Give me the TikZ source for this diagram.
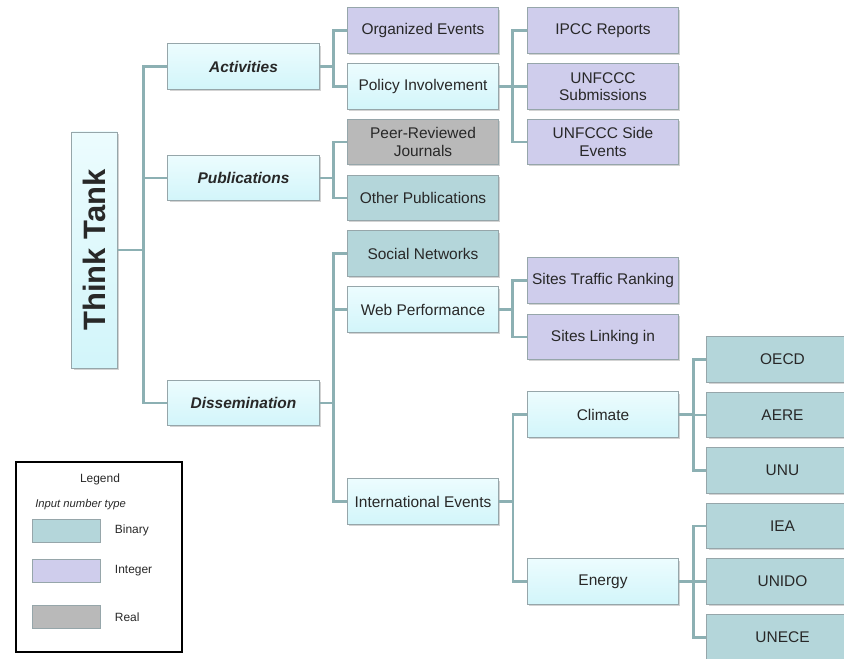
\documentclass[tikz,border=0pt]{standalone}
\usepackage{fontspec}
\setmainfont{Liberation Sans}
\usepackage{graphicx}
\usetikzlibrary{shadows}

\definecolor{tkcyan}{RGB}{210,245,250}
\definecolor{tkcyantop}{RGB}{236,252,254}
\definecolor{tkbinary}{RGB}{180,214,218}
\definecolor{tkinteger}{RGB}{207,205,236}
\definecolor{tkreal}{RGB}{185,185,185}
\definecolor{tkedge}{RGB}{150,166,170}
\definecolor{tkline}{RGB}{140,176,179}
\definecolor{tktext}{RGB}{40,40,40}

\begin{document}
\begin{tikzpicture}[x=0.025cm,y=-0.025cm,
  box/.style={draw=tkedge,line width=0.6pt,minimum width=3.78cm,minimum height=1.13cm,
    align=center,text=tktext,font=\fontsize{11}{12.5}\selectfont,
    drop shadow={shadow xshift=1.2pt,shadow yshift=-1.2pt,opacity=0.35}},
  plain/.style={box,top color=tkcyantop,bottom color=tkcyan},
  head/.style={plain,font=\fontsize{11}{12.5}\selectfont\bfseries\itshape},
  binary/.style={box,fill=tkbinary},
  integer/.style={box,fill=tkinteger},
  real/.style={box,fill=tkreal},
  link/.style={draw=tkline,line width=1.5pt},
  swatch/.style={draw=tkedge,fill=#1,line width=0.4pt,minimum width=1.7cm,minimum height=0.58cm}]
  \useasboundingbox (0,0) rectangle (844,659);
  \clip (0,0) rectangle (844,659);

  % root and first level
  \node[plain,minimum width=1.13cm,minimum height=5.9cm,font=\fontsize{22}{24}\selectfont\bfseries]
    (think) at (94.5,250) {\rotatebox{90}{Think Tank}};
  \node[head] (act) at (243.5,66.5) {Activities};
  \node[head] (pub) at (243.5,178) {Publications};
  \node[head] (dis) at (243.5,403) {Dissemination};

  % second level
  \node[integer] (org)  at (423,30.5)  {Organized Events};
  \node[plain]   (pol)  at (423,86.5)  {Policy Involvement};
  \node[real]    (peer) at (423,142)   {Peer-Reviewed\\Journals};
  \node[binary]  (oth)  at (423,198)   {Other Publications};
  \node[binary]  (soc)  at (423,253.5) {Social Networks};
  \node[plain]   (web)  at (423,309.5) {Web Performance};
  \node[plain]   (intl) at (423,501.5) {International Events};

  % third level
  \node[integer] (ipcc)  at (603,30.5)  {IPCC Reports};
  \node[integer] (subm)  at (603,86.5)  {UNFCCC\\Submissions};
  \node[integer] (side)  at (603,142)   {UNFCCC Side\\Events};
  \node[integer] (traf)  at (603,280.5) {Sites Traffic Ranking};
  \node[integer] (slink) at (603,337)   {Sites Linking in};
  \node[plain]   (clim)  at (603,414.5) {Climate};
  \node[plain]   (ener)  at (603,581.5) {Energy};

  % fourth level
  \node[binary] (oecd)  at (782.5,359.5) {OECD};
  \node[binary] (aere)  at (782.5,415)   {AERE};
  \node[binary] (unu)   at (782.5,470.5) {UNU};
  \node[binary] (iea)   at (782.5,526)   {IEA};
  \node[binary] (unido) at (782.5,581.5) {UNIDO};
  \node[binary] (unece) at (782.5,637.5) {UNECE};

  % connectors
  \draw[link] (think.east) -- ++(26,0) coordinate (trunk);
  \foreach \kid in {act,pub,dis}
    \draw[link] (trunk) |- (\kid.west);
  \foreach \kid in {org,pol}
    \draw[link] (act.east) -- ++(14,0) |- (\kid.west);
  \foreach \kid in {peer,oth}
    \draw[link] (pub.east) -- ++(14,0) |- (\kid.west);
  \foreach \kid in {soc,web,intl}
    \draw[link] (dis.east) -- ++(14,0) |- (\kid.west);
  \foreach \kid in {ipcc,subm,side}
    \draw[link] (pol.east) -- ++(13.5,0) |- (\kid.west);
  \foreach \kid in {traf,slink}
    \draw[link] (web.east) -- ++(13.5,0) |- (\kid.west);
  \foreach \kid in {clim,ener}
    \draw[link] (intl.east) -- ++(14,0) |- (\kid.west);
  \foreach \kid in {oecd,aere,unu}
    \draw[link] (clim.east) -- ++(14.5,0) |- (\kid.west);
  \foreach \kid in {iea,unido,unece}
    \draw[link] (ener.east) -- ++(14.5,0) |- (\kid.west);

  % legend
  \node[draw=black,line width=1.2pt,minimum width=4.15cm,minimum height=4.75cm] (legend) at (99,557) {};
  \node[font=\fontsize{8.5}{10}\selectfont,text=tktext] (legtitle) at (100,479) {Legend};
  \node[font=\fontsize{8}{10}\selectfont\itshape,text=tktext,anchor=west,inner sep=0pt] (legsub) at (35,505) {Input number type};
  \node[swatch=tkbinary]  (swbin) at (66,530.5) {};
  \node[swatch=tkinteger] (swint) at (66,570.5) {};
  \node[swatch=tkreal]    (swreal) at (66,617) {};
  \node[font=\fontsize{8.5}{10}\selectfont,text=tktext,anchor=west] at (110,530) {Binary};
  \node[font=\fontsize{8.5}{10}\selectfont,text=tktext,anchor=west] at (110,571) {Integer};
  \node[font=\fontsize{8.5}{10}\selectfont,text=tktext,anchor=west] at (110,617) {Real};
\end{tikzpicture}
\end{document}
